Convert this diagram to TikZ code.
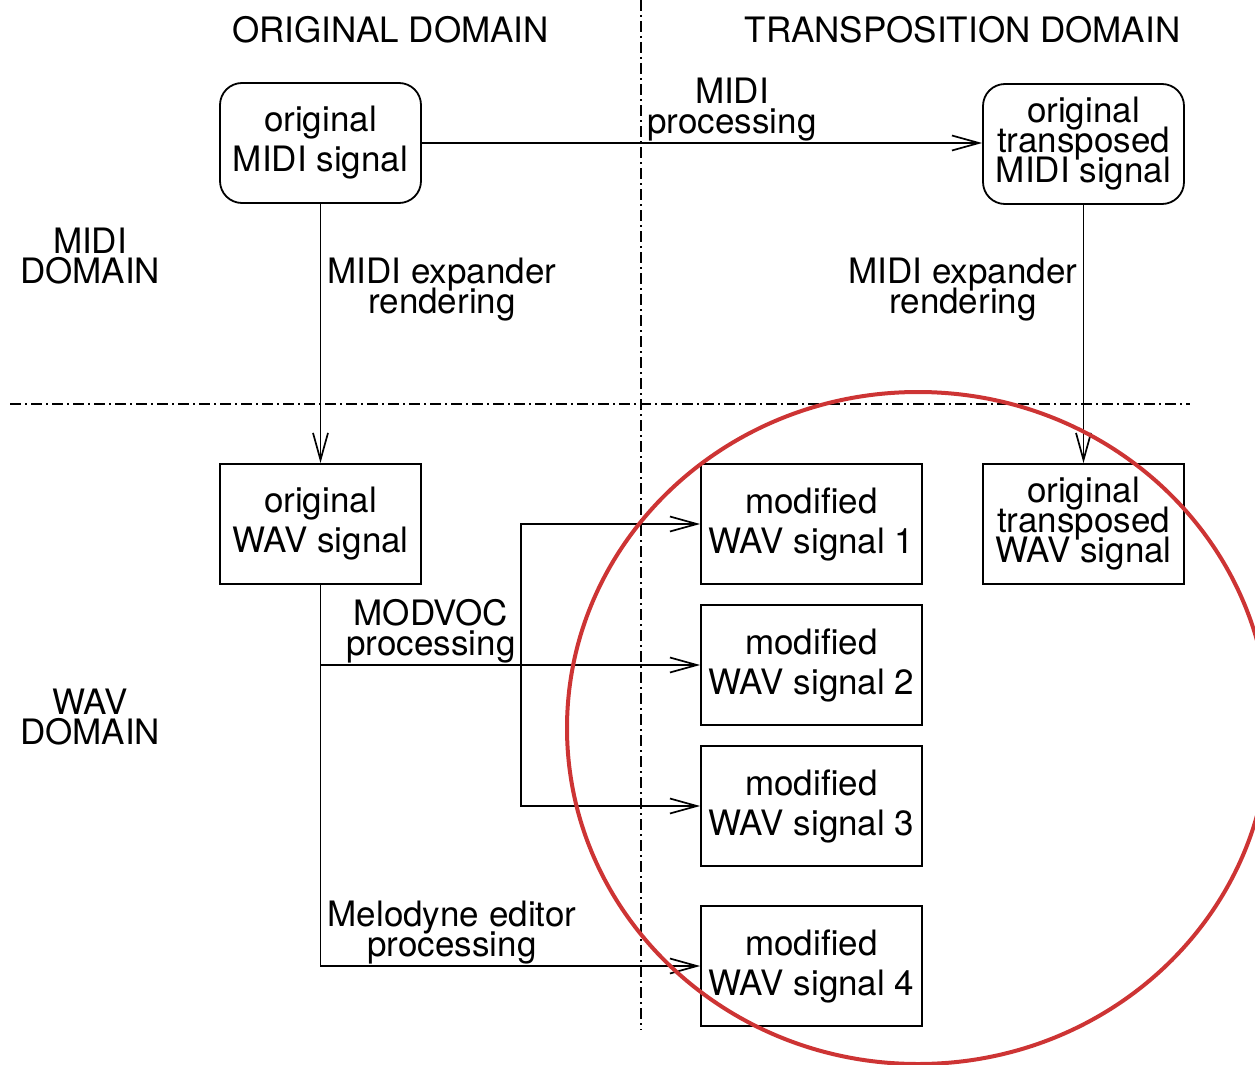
\documentclass[tikz,border=0pt]{standalone}
\usepackage{fontspec}
\setmainfont{TeX Gyre Heros}
\usetikzlibrary{arrows.meta}
\definecolor{circred}{RGB}{205,52,52}
\newcommand\figfontA{\fontsize{35}{30}\selectfont\lineskiplimit=-100pt\relax}
\newcommand\figfontB{\fontsize{35}{40}\selectfont\lineskiplimit=-100pt\relax}
\begin{document}
\begin{tikzpicture}[x=1pt,y=-1pt,
  every node/.style={font=\figfontA, inner sep=0pt, align=center},
  box/.style={draw, line width=1.8pt, minimum width=201pt, minimum height=120pt, font=\figfontB},
  box3/.style={box, font=\figfontA},
  rbox/.style={box, rounded corners=22pt},
  wbox/.style={box, minimum width=221pt},
  conn/.style={line width=1.7pt},
  arr/.style={conn, -{Straight Barb[length=27pt,width=15pt]}},
  domline/.style={line width=1.6pt, dash pattern=on 11pt off 4pt on 2pt off 4pt}
]
\useasboundingbox (0,0) rectangle (1255,1065);

% domain separators
\coordinate (vtop) at (641,0);
\coordinate (vbot) at (641,1030);
\coordinate (hl) at (10,404);
\coordinate (hr) at (1190,404);
\draw[domline] (vtop) -- (vbot);
\draw[domline] (hl) -- (hr);

% headings
\node (hOrig) at (390.5,30) {ORIGINAL DOMAIN};
\node (hTrans) at (962.5,30) {TRANSPOSITION DOMAIN};
\node (hMidi) at (90,256) {MIDI\\DOMAIN};
\node (hWav) at (90,717) {WAV\\DOMAIN};

% boxes
\node[rbox] (om) at (320.5,143) {original\\MIDI signal};
\node[rbox, box3] (tm) at (1083.5,144) {original\\transposed\\MIDI signal};
\node[box] (ow) at (320.5,524) {original\\WAV signal};
\node[box3] (tw) at (1083.5,524) {original\\transposed\\WAV signal};
\node[wbox] (m1) at (811.5,524) {modified\\WAV signal 1};
\node[wbox] (m2) at (811.5,665) {modified\\WAV signal 2};
\node[wbox] (m3) at (811.5,806) {modified\\WAV signal 3};
\node[wbox] (m4) at (811.5,966) {modified\\WAV signal 4};

% connectors
\draw[arr] (om) -- (tm.west |- om.east);
\draw[arr] (om) -- (ow);
\draw[arr] (tm) -- (tw);
\draw[arr] (ow.south) |- (m4.west);
\coordinate (j1) at (ow.south |- m2.west);
\draw[arr] (j1) -- (m2.west);
\coordinate (br) at (521,665);
\draw[arr] (br) |- (m1.west);
\draw[arr] (br) |- (m3.west);

% labels
\node (lMidiProc) at (732,110) {MIDI\\processing};
\node (lRend1) at (442,290) {MIDI expander\\rendering};
\node (lRend2) at (963,290) {MIDI expander\\rendering};
\node (lModvoc) at (431,631) {MODVOC\\processing};
\node (lMelo) at (452,933) {Melodyne editor\\processing};

% highlight
\begin{scope}
\clip (0,0) rectangle (1255,1065);
\draw[circred, line width=4pt] (918,728) ellipse [x radius=351pt, y radius=336pt];
\end{scope}
\end{tikzpicture}
\end{document}
